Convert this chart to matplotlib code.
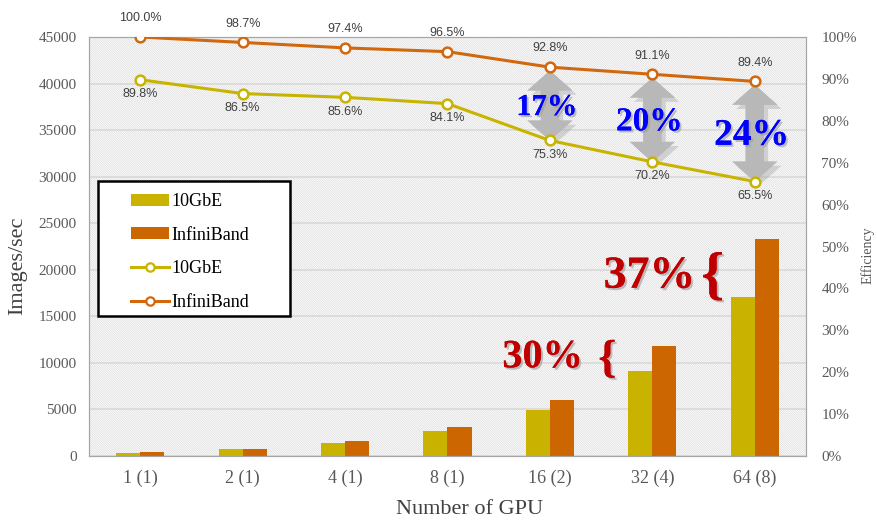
#!/usr/bin/env python3
"""Throughput + scaling efficiency, 10GbE vs InfiniBand."""

import numpy as np
import matplotlib
matplotlib.use('Agg')
import matplotlib.pyplot as plt
import matplotlib.patches as patches
import matplotlib.patheffects as pe
from matplotlib.lines import Line2D
from matplotlib.ticker import MultipleLocator, FuncFormatter

# --- data ---
gpu_labels = ['1 (1)', '2 (1)', '4 (1)', '8 (1)', '16 (2)', '32 (4)', '64 (8)']
tput_10gbe = [365, 704, 1394, 2738, 4904, 9143, 17060]      # images/sec
tput_ib = [407, 803, 1586, 3142, 6043, 11865, 23290]        # images/sec
eff_10gbe = [89.8, 86.5, 85.6, 84.1, 75.3, 70.2, 65.5]      # %
eff_ib = [100.0, 98.7, 97.4, 96.5, 92.8, 91.1, 89.4]        # %
gap_idx = [4, 5, 6]
gap_labels = ['17%', '20%', '24%']
gain_idx = [5, 6]
gain_labels = ['30%', '37%']

C_YEL_BAR = '#C9B300'
C_ORG_BAR = '#CC6600'
C_YEL_LN = '#C8B400'
C_ORG_LN = '#D2680E'
C_TICK = '#595959'
SERIF = 'Liberation Serif'

plt.rcParams['hatch.linewidth'] = 0.5

fig = plt.figure(figsize=(8.77, 5.2), dpi=100)
fig.patch.set_facecolor('white')
ax = fig.add_axes([89 / 877, 1 - 456 / 520, 717 / 877, 419 / 520])
ax.set_xlim(-0.5, 6.5)
ax.set_ylim(0, 45000)

# hatched plot background
ax.add_patch(patches.Rectangle((0, 0), 1, 1, transform=ax.transAxes,
                               facecolor='white', edgecolor='#dadada',
                               hatch='\\' * 15, lw=0, zorder=0))
ax.set_axisbelow(True)
ax.yaxis.grid(True, color='#d9d9d9', lw=1.2)
ax.yaxis.set_major_locator(MultipleLocator(5000))

# --- bars ---
x = np.arange(len(gpu_labels))
w = 0.235
ax.bar(x - w / 2, tput_10gbe, w, color=C_YEL_BAR, zorder=2)
ax.bar(x + w / 2, tput_ib, w, color=C_ORG_BAR, zorder=2)

ax.set_xticks(x)
ax.set_xticklabels(gpu_labels, family=SERIF, fontsize=13, color=C_TICK)
for lab in ax.get_yticklabels():
    lab.set_family(SERIF)
ax.tick_params(axis='y', length=0, pad=9, labelsize=11, labelcolor=C_TICK)
ax.tick_params(axis='x', length=0, pad=10)
for s in ax.spines.values():
    s.set_color('#a6a6a6')

# --- efficiency lines ---
ax2 = ax.twinx()
ax2.set_ylim(0, 100)
ax2.yaxis.set_major_locator(MultipleLocator(10))
ax2.yaxis.set_major_formatter(FuncFormatter(lambda v, p: f'{v:.0f}%'))
ax2.tick_params(axis='y', length=0, pad=11, labelsize=11, labelcolor=C_TICK)
for lab in ax2.get_yticklabels():
    lab.set_family(SERIF)
for s in ax2.spines.values():
    s.set_color('#a6a6a6')

ax2.plot(x, eff_10gbe, color=C_YEL_LN, lw=2.2, marker='o', ms=7,
         mfc='white', mec=C_YEL_LN, mew=1.8, zorder=5)
ax2.plot(x, eff_ib, color=C_ORG_LN, lw=2.2, marker='o', ms=7,
         mfc='white', mec=C_ORG_LN, mew=1.8, zorder=5)

for i, v in enumerate(eff_ib):
    ax2.annotate(f'{v:.1f}%', (i, v), xytext=(0, 13.5), textcoords='offset points',
                 ha='center', va='center', fontsize=9, color='#404040',
                 family='Liberation Sans', zorder=6)
for i, v in enumerate(eff_10gbe):
    ax2.annotate(f'{v:.1f}%', (i, v), xytext=(0, -10.5), textcoords='offset points',
                 ha='center', va='center', fontsize=9, color='#404040',
                 family='Liberation Sans', zorder=6)

# --- gap arrows + labels ---
arr_shadow = [pe.withSimplePatchShadow(offset=(3, -3), shadow_rgbFace='#999999', alpha=0.35),
              pe.Normal()]
txt_shadow = [pe.withSimplePatchShadow(offset=(1.5, -1.5), shadow_rgbFace='#999999', alpha=0.6),
              pe.Normal()]
gap_sizes = [22, 24, 27]
for i, lbl, fs in zip(gap_idx, gap_labels, gap_sizes):
    hi = eff_ib[i] - 0.8
    lo = eff_10gbe[i]
    mid = (hi + lo) / 2
    for end in (hi, lo):
        arr = patches.FancyArrowPatch(
            (i, mid), (i, end),
            arrowstyle='simple,head_width=1.35,head_length=0.6,tail_width=0.55',
            mutation_scale=24, color='#b8b8b8', alpha=0.9, lw=0,
            shrinkA=0, shrinkB=0, zorder=3, path_effects=arr_shadow)
        ax2.add_patch(arr)
    ax2.text(i - 0.03, mid - 0.5, lbl, ha='center', va='center', fontsize=fs,
             family=SERIF, weight='bold', color='#0000FF', zorder=7,
             path_effects=txt_shadow)

# --- throughput gain labels ---
gain_sizes = [29, 33]
brace_sizes = [33, 42]
txt_dx = [-0.68, -0.58]
br_dx = [-0.44, -0.41]
for k, i in enumerate(gain_idx):
    if i == 6:
        y_txt = tput_10gbe[i] + 2200
        y_br = tput_10gbe[i] + 2000
    else:
        y_txt = tput_10gbe[i] + 1400
        y_br = tput_10gbe[i] + 1100
    ax.text(i + txt_dx[k], y_txt, gain_labels[k], ha='right', va='center',
            fontsize=gain_sizes[k], family=SERIF, weight='bold', color='#C00000',
            zorder=7, path_effects=txt_shadow)
    ax.text(i + br_dx[k], y_br, '{', ha='center', va='center',
            fontsize=brace_sizes[k], family=SERIF, weight='bold', color='#C00000',
            zorder=7, path_effects=txt_shadow)

# --- legend with its own box ---
ax.add_patch(patches.Rectangle((9 / 717, 140 / 419), 192 / 717, 135 / 419,
                               transform=ax.transAxes, facecolor='white',
                               edgecolor='black', lw=1.8, zorder=8))
handles = [
    patches.Patch(facecolor=C_YEL_BAR, label='10GbE'),
    patches.Patch(facecolor=C_ORG_BAR, label='InfiniBand'),
    Line2D([], [], color=C_YEL_LN, lw=2.2, marker='o', ms=6, mfc='white',
           mec=C_YEL_LN, mew=1.6, label='10GbE'),
    Line2D([], [], color=C_ORG_LN, lw=2.2, marker='o', ms=6, mfc='white',
           mec=C_ORG_LN, mew=1.6, label='InfiniBand'),
]
leg = ax.legend(handles=handles, loc='upper left',
                bbox_to_anchor=(42 / 717, 263 / 419), frameon=False,
                prop={'family': SERIF, 'size': 13}, handlelength=2.1,
                handleheight=0.65, handletextpad=0.15, labelspacing=0.92,
                borderpad=0, borderaxespad=0)
leg.set_zorder(9)

# --- axis titles ---
fig.text(18 / 877, 1 - 266 / 520, 'Images/sec', rotation=90, ha='center',
         va='center', family=SERIF, fontsize=16, color='#404040')
fig.text(470 / 877, 1 - 510 / 520, 'Number of GPU', ha='center', va='center',
         family=SERIF, fontsize=16, color='#404040')
fig.text(868 / 877, 1 - 255 / 520, 'Efficiency', rotation=90, ha='center',
         va='center', family=SERIF, fontsize=10, color=C_TICK)

fig.savefig('out.png', dpi=100, facecolor='white')
